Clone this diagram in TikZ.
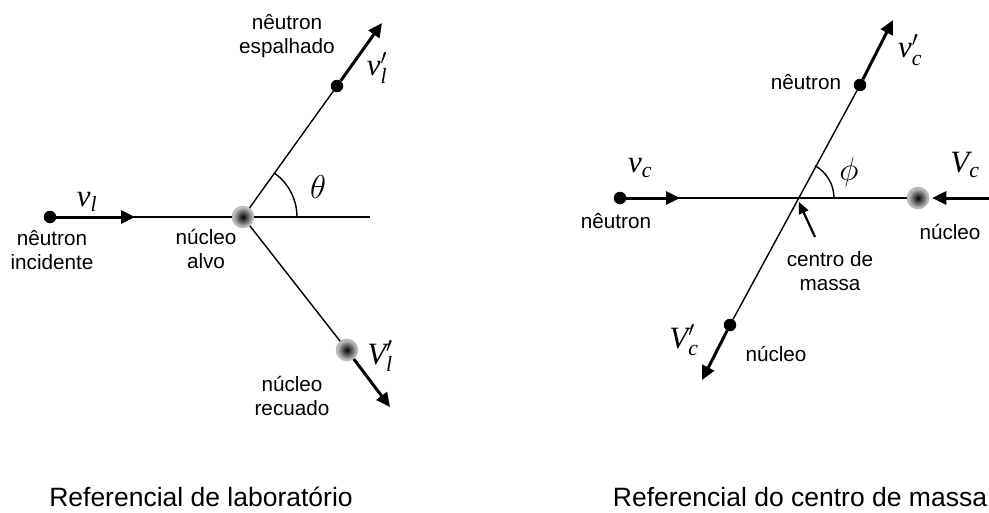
\RequirePackage{fix-cm}
\documentclass[tikz,border=0pt]{standalone}
\usepackage{fontspec}
\setmainfont{Liberation Sans}
\newfontfamily\tms{Liberation Serif}
\usepackage{amsmath}
\usetikzlibrary{arrows.meta}
\newcommand{\grd}[2]{\text{\tms\itshape #1}_{\text{\tms\itshape #2}}}

\begin{document}
\begin{tikzpicture}[x=1pt,y=-1pt,
   rotulo/.style={font=\fontsize{20.7}{24.5}\selectfont,align=center,inner sep=0pt},
   titulo/.style={font=\fontsize{26.5}{30}\selectfont,inner sep=0pt,anchor=base},
   grandeza/.style={font=\fontsize{31}{34}\selectfont,inner sep=0pt},
   angulo/.style={font=\fontsize{33}{36}\selectfont,inner sep=0pt},
   neutron/.style={circle,fill=black,minimum size=12.5pt,inner sep=0pt},
   nucleo/.style={circle,minimum size=21pt,inner sep=0pt,draw=gray!55,line width=1.5pt,inner color=black,outer color=gray!40},
   fino/.style={line width=1.4pt},
   seta/.style={line width=3pt,-{Triangle[length=14pt,width=13pt]}},
   ponteiro/.style={line width=2.2pt,-{Triangle[length=12pt,width=10pt]},shorten >=4pt}]
   \useasboundingbox (0,0) rectangle (989,512);
   % referencial de laboratorio
   \node[neutron] (inc) at (50,217) {};
   \node[nucleo] (alvo) at (243,217) {};
   \node[neutron] (esp) at (337,86) {};
   \node[nucleo] (rec) at (347,350) {};
   \coordinate (incF) at (135,217);
   \coordinate (eixo) at (370,217);
   \coordinate (espF) at (382,23);
   \coordinate (recF) at (390,407);
   \draw[fino] (inc) -- (alvo) -- (eixo);
   \draw[fino] (alvo) -- (esp);
   \draw[fino] (alvo) -- (rec);
   \draw[seta] (inc) -- (incF);
   \draw[seta] (esp) -- (espF);
   \draw[seta] (rec) -- (recF);
   \draw[fino] ([xshift=54pt]alvo.center) arc[start angle=0,end angle=54,radius=54pt];
   \node[grandeza] (vl) at (87,202) {$\grd{v}{l}$};
   \node[grandeza] (vlp) at (377,68) {$\grd{v}{l}^{\prime}$};
   \node[grandeza] (Vlp) at (380,356) {$\grd{V}{l}^{\prime}$};
   \node[angulo] (teta) at (318,187) {$\theta$};
   \node[rotulo] (lEsp) at (287,36) {nêutron\\espalhado};
   \node[rotulo] (lInc) at (52,250) {nêutron\\incidente};
   \node[rotulo] (lAlvo) at (206,249) {núcleo\\alvo};
   \node[rotulo] (lRec) at (292,396) {núcleo\\recuado};
   \node[titulo] (tLab) at (201,506) {Referencial de laboratório};
   % referencial do centro de massa
   \node[neutron] (nc) at (620,198) {};
   \node[nucleo] (nuc) at (918,198) {};
   \node[neutron] (ns) at (860,85) {};
   \node[neutron] (nd) at (730,325) {};
   \coordinate (cm) at (797,198);
   \coordinate (ncF) at (680,198);
   \coordinate (nucI) at (989,198);
   \coordinate (nsF) at (893,20);
   \coordinate (ndF) at (702,380);
   \coordinate (cmP) at (815,237);
   \draw[fino] (nc) -- (nuc);
   \draw[fino] (nd) -- (ns);
   \draw[seta] (nc) -- (ncF);
   \draw[seta,shorten >=3pt] (nucI) -- (nuc);
   \draw[seta] (ns) -- (nsF);
   \draw[seta] (nd) -- (ndF);
   \draw[ponteiro] (cmP) -- (cm);
   \draw[fino] ([xshift=37pt]cm) arc[start angle=0,end angle=61,radius=37pt];
   \node[grandeza] (vc) at (640,168) {$\grd{v}{c}$};
   \node[grandeza] (Vc) at (965,165) {$\grd{V}{c}$};
   \node[grandeza] (vcp) at (910,50) {$\grd{v}{c}^{\prime}$};
   \node[grandeza] (Vcp) at (684,340) {$\grd{V}{c}^{\prime}$};
   \node[angulo] (fi) at (849,172) {$\phi$};
   \node[rotulo] (lNs) at (806,82) {nêutron};
   \node[rotulo] (lNc) at (616,221) {nêutron};
   \node[rotulo] (lNuc) at (950,232) {núcleo};
   \node[rotulo] (lCm) at (830,271) {centro de\\massa};
   \node[rotulo] (lNd) at (776,354) {núcleo};
   \node[titulo] (tCm) at (800,506) {Referencial do centro de massa};
\end{tikzpicture}
\end{document}
